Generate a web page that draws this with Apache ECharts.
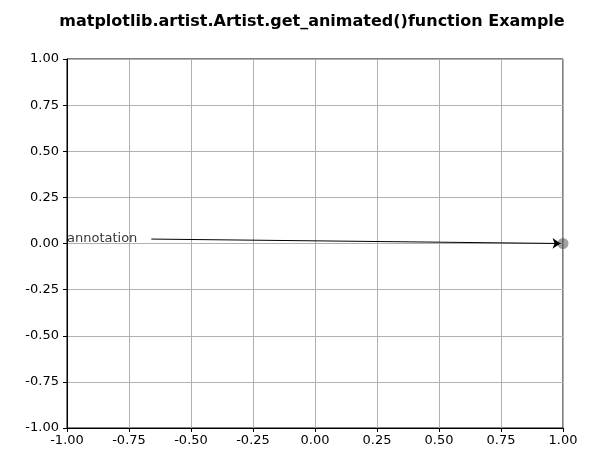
<!DOCTYPE html><html><head><meta charset="utf-8"><script src="https://cdn.jsdelivr.net/npm/echarts@6/dist/echarts.min.js"></script></head><body style="margin:0"><div id="c" style="width:601px;height:470px"></div><script>
const ticks=[-1,-0.75,-0.5,-0.25,0,0.25,0.5,0.75,1];
const pointData=[[1,0]];
const arrowStart=[-0.66,0.024];
const arrowEnd=[0.99,0];
const textPos=[-1,0.024];
const c=echarts.init(document.getElementById('c'));
const ax={min:-1,max:1,interval:0.25,axisLine:{onZero:false,lineStyle:{color:'#000'}},axisTick:{length:4,lineStyle:{color:'#000'}},splitLine:{show:true,lineStyle:{color:'#b0b0b0'}},axisLabel:{color:'#000',fontSize:13,fontFamily:'DejaVu Sans',formatter:v=>v.toFixed(2)}};
c.setOption({animation:false,
title:{text:'matplotlib.artist.Artist.get_animated()function Example',left:307,top:9,textAlign:'center',textStyle:{fontSize:16,fontWeight:'bold',fontFamily:'DejaVu Sans',color:'#000'}},
grid:{left:67,right:38,top:59,bottom:42,show:true,borderColor:'#000',borderWidth:1},
xAxis:Object.assign({type:'value',position:'bottom'},ax,{axisLabel:Object.assign({},ax.axisLabel,{margin:6})}),
yAxis:Object.assign({type:'value'},ax,{axisLabel:Object.assign({},ax.axisLabel,{margin:8})}),
series:[
{type:'scatter',data:pointData,symbolSize:11,itemStyle:{color:'rgba(60,60,60,0.6)'},clip:false,z:3},
{type:'lines',coordinateSystem:'cartesian2d',data:[{coords:[arrowStart,arrowEnd]}],symbol:['none','arrow'],symbolSize:8,lineStyle:{color:'#000',width:1,opacity:1},z:4},
{type:'scatter',data:[textPos],symbolSize:0,label:{show:true,position:'right',distance:0,formatter:'annotation',color:'#000',fontSize:13,fontFamily:'DejaVu Sans'},z:5}
]});
</script></body></html>
